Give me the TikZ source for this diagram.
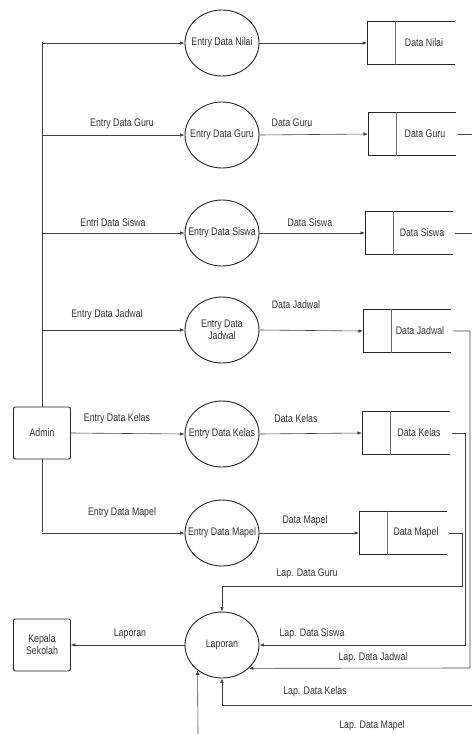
\documentclass[tikz,border=0pt]{standalone}
\usepackage{fontspec}
\setmainfont{Liberation Sans}[FakeStretch=0.8]
\usetikzlibrary{arrows.meta,shapes.geometric}
\begin{document}
\begin{tikzpicture}[x=1pt,y=-1pt,
  every node/.style={font=\fontsize{11}{12}\selectfont, text=black!80},
  ln/.style={draw=black!75, line width=0.6pt},
  arr/.style={ln, -{Latex[length=4.5pt,width=3.5pt]}},
  proc/.style={ellipse, draw=black!85, line width=0.9pt, minimum width=74pt, minimum height=66pt, inner sep=0pt},
  ext/.style={draw=black!85, line width=0.9pt, rounded corners=2pt, minimum width=57pt, minimum height=52pt, fill=white, align=center, inner sep=1pt},
  storebox/.style={minimum width=88pt, minimum height=43pt, inner sep=0pt},
  lbl/.style={inner sep=1pt}
]
\useasboundingbox (0,0) rectangle (472,734);

% processes
\node[proc, label={center:Entry Data Nilai}] (enil) at (222,43) {};
\node[proc, label={center:Entry Data Guru}] (egur) at (222,135) {};
\node[proc, label={center:Entry Data Siswa}] (esis) at (222,233) {};
\node[proc, label={[align=center]center:Entry Data\\Jadwal}] (ejad) at (222,330) {};
\node[proc, label={center:Entry Data Kelas}] (ekel) at (222,434) {};
\node[proc, label={center:Entry Data Mapel}] (emap) at (222,533) {};
\node[proc, label={center:Laporan}] (lap) at (222,645) {};

% externals
\draw[ln] (42,42) -- (42,532);
\node[ext] (admin) at (42,433) {Admin};
\node[ext] (kepala) at (42,645) {Kepala\\Sekolah};

% stores
\newcommand{\datastore}[4]{% name, x-left, y, text
  \node[storebox, anchor=west] (#1) at (#2,#3) {};
  \draw[black!85, line width=0.9pt] (#1.north east) -- (#1.north west) -- (#1.south west) -- (#1.south east);
  \draw[black!60, line width=0.6pt] ([xshift=28pt]#1.north west) -- ([xshift=28pt]#1.south west);
  \node (#1t) at ([xshift=57pt]#1.west) {#4};
}
\datastore{snil}{367}{43}{Data Nilai}
\datastore{sgur}{368}{134}{Data Guru}
\datastore{ssis}{365}{233}{Data Siswa}
\datastore{sjad}{363}{331}{Data Jadwal}
\datastore{skel}{362}{433}{Data Kelas}
\datastore{smap}{359}{533}{Data Mapel}

% trunk coordinates
\coordinate (t1) at (42,43);
\coordinate (t2) at (42,135);
\coordinate (t3) at (42,233);
\coordinate (t4) at (42,330);
\coordinate (t6) at (42,533);

% admin -> processes
\draw[arr] (t1) -- (enil.west);
\draw[arr] (t2) -- (egur.west);
\draw[arr] (t3) -- (esis.west);
\draw[arr] (t4) -- (ejad.west);
\draw[arr] (admin.east) -- (ekel.west);
\draw[arr] (t6) -- (emap.west);

\node[lbl] (l1) at (122,124) {Entry Data Guru};
\node[lbl] (l2) at (113,223) {Entri Data Siswa};
\node[lbl] (l3) at (107,315) {Entry Data Jadwal};
\node[lbl] (l4) at (117,419) {Entry Data Kelas};
\node[lbl] (l5) at (122,513) {Entry Data Mapel};

% processes -> stores
\draw[arr] (enil.east) -- (snil.west);
\draw[arr] (egur.east) -- (sgur.west);
\draw[arr] (esis.east) -- (ssis.west);
\draw[arr] (ejad.east) -- (sjad.west);
\draw[arr] (ekel.east) -- (skel.west);
\draw[arr] (emap.east) -- (smap.west);

\node[lbl] (d1) at (292,123) {Data Guru};
\node[lbl] (d2) at (310,223) {Data Siswa};
\node[lbl] (d3) at (296,305) {Data Jadwal};
\node[lbl] (d4) at (296,419) {Data Kelas};
\node[lbl] (d5) at (305,521) {Data Mapel};

% stores -> laporan
\coordinate (rgur) at (472,134);
\coordinate (rsis) at (472,233);
\draw[ln] ([xshift=2pt]sgur.east) -- (rgur);
\draw[ln] ([xshift=2pt]ssis.east) -- (rsis);

\draw[arr] ([xshift=2pt]sjad.east) -- (470,331) -- (470,668) -- (lap.-41);
\draw[arr] ([xshift=2pt]skel.east) -- (465,433) -- (465,645) -- (lap.east);
\draw[arr] ([xshift=2pt]smap.east) -- (462,533) -- (462,586) -- (222,586) -- (lap.north);
\coordinate (rkel) at (472,705);
\draw[arr] (rkel) -- (222,705) -- (lap.south);
\coordinate (bmap) at (198,734);
\draw[arr] (bmap) -- (lap.-134);

\node[lbl] (g1) at (307,574) {Lap. Data Guru};
\node[lbl] (g2) at (312,634) {Lap. Data Siswa};
\node[lbl] (g3) at (373,658) {Lap. Data Jadwal};
\node[lbl] (g4) at (315,692) {Lap. Data Kelas};
\node[lbl] (g5) at (372,726) {Lap. Data Mapel};

% laporan -> kepala
\draw[arr] (lap.west) -- (kepala.east);
\node[lbl] (g6) at (130,634) {Laporan};
\end{tikzpicture}
\end{document}
